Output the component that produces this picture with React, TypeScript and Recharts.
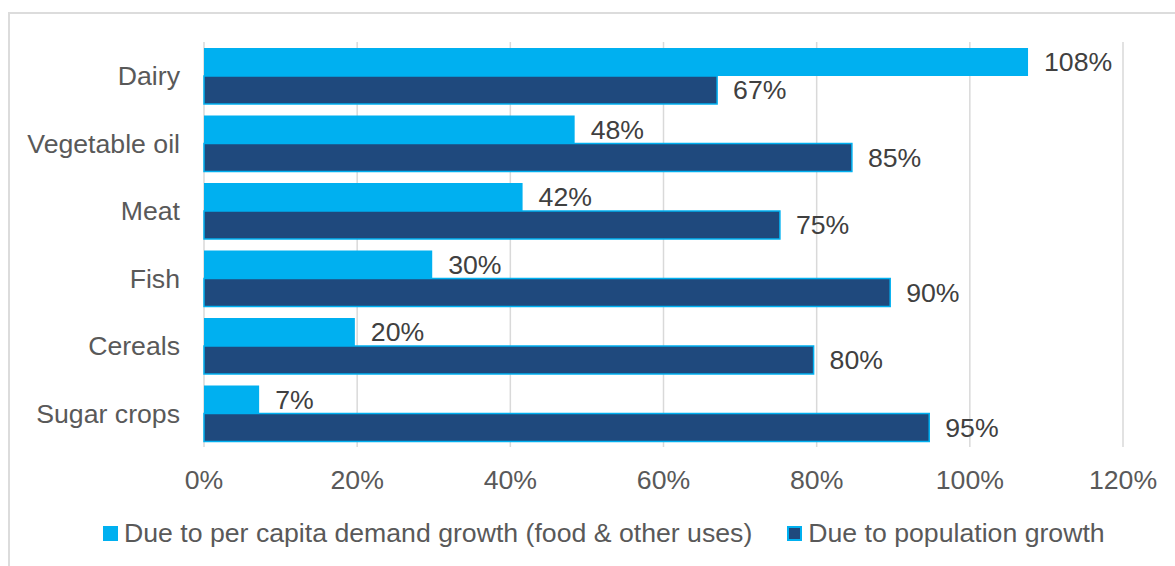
import React from "react";
import {
  Bar,
  BarChart,
  CartesianGrid,
  LabelList,
  Legend,
  XAxis,
  YAxis,
} from "recharts";

const categories = ["Dairy", "Vegetable oil", "Meat", "Fish", "Cereals", "Sugar crops"];
const perCapita = [107.6, 48.4, 41.6, 29.8, 19.7, 7.2];
const population = [67.0, 84.6, 75.2, 89.6, 79.6, 94.7];
const xTicks = [0, 20, 40, 60, 80, 100, 120];

const seriesNames = {
  perCapita: "Due to per capita demand growth (food & other uses)",
  population: "Due to population growth",
};

const LIGHT = "#00B0F0";
const DARK = "#1F497D";
const FONT = "'Liberation Sans', Arial, sans-serif";
const FS = 26.67;

const data = categories.map((name, i) => ({
  name,
  perCapita: perCapita[i],
  population: population[i],
}));

const pct = (v: number) => `${Math.round(Number(v))}%`;

function LegendContent() {
  const items = [
    { label: seriesNames.perCapita, fill: LIGHT, border: LIGHT },
    { label: seriesNames.population, fill: DARK, border: LIGHT },
  ];
  return (
    <div style={{ display: "flex", alignItems: "center", height: 28, fontFamily: FONT, fontSize: FS, color: "#595959" }}>
      {items.map((it, i) => (
        <div key={it.label} style={{ display: "flex", alignItems: "center", marginRight: i === 0 ? 35 : 0 }}>
          <span
            style={{
              display: "inline-block",
              width: 15,
              height: 15,
              boxSizing: "border-box",
              background: it.fill,
              border: `2px solid ${it.border}`,
              marginRight: 6,
            }}
          />
          <span style={{ whiteSpace: "nowrap" }}>{it.label}</span>
        </div>
      ))}
    </div>
  );
}

export default function App() {
  return (
    <div style={{ position: "fixed", left: 0, top: 0, width: 1175, height: 566, overflow: "hidden", background: "#fff" }}>
      <div
        style={{
          position: "absolute",
          left: 8,
          top: 12,
          width: 1300,
          height: 700,
          border: "2px solid #dcdcdc",
        }}
      />
      <div style={{ position: "absolute", left: 0, top: 0 }}>
        <BarChart
          width={1175}
          height={566}
          data={data}
          layout="vertical"
          margin={{ top: 42, right: 52, left: 0, bottom: 61 }}
          barCategoryGap={6}
          barGap={0}
        >
          <CartesianGrid horizontal={false} stroke="#d9d9d9" strokeWidth={1.5} />
          <XAxis
            type="number"
            domain={[0, 120]}
            ticks={xTicks}
            tickFormatter={(v) => `${v}%`}
            axisLine={false}
            tickLine={false}
            tickSize={6}
            tickMargin={17}
            height={30}
            interval={0}
            tick={{ fontSize: FS, fill: "#595959", fontFamily: FONT }}
          />
          <YAxis
            type="category"
            dataKey="name"
            width={204}
            axisLine={false}
            tickLine={false}
            tickSize={6}
            tickMargin={18}
            interval={0}
            tick={{ fontSize: FS, fill: "#595959", fontFamily: FONT }}
          />
          <Legend
            verticalAlign="bottom"
            content={() => <LegendContent />}
            wrapperStyle={{ left: 103, top: 519, width: "auto" }}
          />
          <Bar dataKey="perCapita" name={seriesNames.perCapita} fill={LIGHT} isAnimationActive={false}>
            <LabelList
              dataKey="perCapita"
              position="right"
              offset={16}
              formatter={pct}
              style={{ fill: "#404040", fontSize: FS, fontFamily: FONT }}
            />
          </Bar>
          <Bar
            dataKey="population"
            name={seriesNames.population}
            fill={DARK}
            stroke={LIGHT}
            strokeWidth={1.5}
            isAnimationActive={false}
          >
            <LabelList
              dataKey="population"
              position="right"
              offset={16}
              formatter={pct}
              style={{ fill: "#404040", fontSize: FS, fontFamily: FONT }}
            />
          </Bar>
        </BarChart>
      </div>
    </div>
  );
}
